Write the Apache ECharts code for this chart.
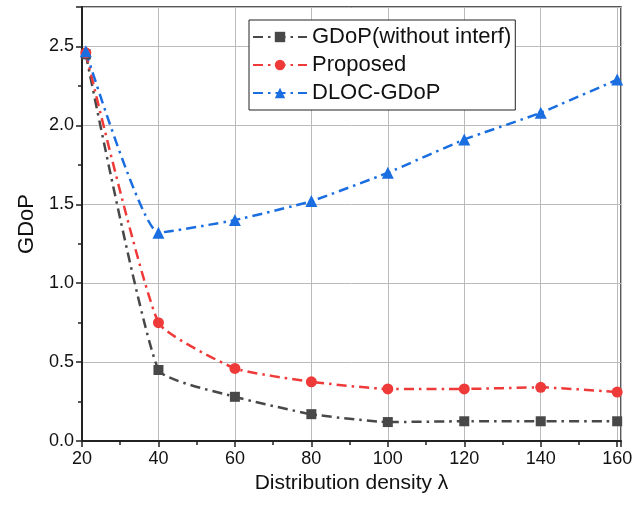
<!DOCTYPE html>
<html>
<head>
	<meta charset="utf-8">
	<title>GDoP</title>
</head>
<body style="margin:0;background:#fff;">
	<div style="width:644px;height:510px;" id="chart1"></div>

	<script src="https://cdn.jsdelivr.net/npm/echarts@6/dist/echarts.min.js"></script>
	<script>
	// 横轴: 分布密度
	var density = [21, 40, 60, 80, 100, 120, 140, 160];
	var gdopNoInterf = [2.45, 0.45, 0.28, 0.17, 0.12, 0.125, 0.125, 0.125];
	var proposed = [2.46, 0.75, 0.46, 0.375, 0.33, 0.33, 0.34, 0.31];
	var dlocGdop = [2.47, 1.32, 1.40, 1.52, 1.70, 1.91, 2.08, 2.29];
	var seriesNames = ['GDoP(without interf)', 'Proposed', 'DLOC-GDoP'];

	function pairs(ys) {
		var out = [];
		for (var i = 0; i < density.length; i++) out.push([density[i], ys[i]]);
		return out;
	}

	var font = 'Liberation Sans, Arial, sans-serif';
	var dashDot = [10, 5, 2.5, 5];

	function line(name, ys, color, symbol, size) {
		return {
			name: name,
			type: 'line',
			data: pairs(ys),
			symbol: symbol,
			symbolSize: size,
			smooth: 0.15,
			itemStyle: { color: color },
			lineStyle: { color: color, width: 2.5, type: dashDot }
		};
	}

	var myChart = echarts.init(document.getElementById('chart1'));
	var option = {
		animation: false,
		grid: {
			left: 82, right: 23, top: 7, bottom: 69,
			show: true, borderColor: '#222', borderWidth: 1.5
		},
		legend: {
			orient: 'vertical',
			left: 249, top: 20,
			data: seriesNames,
			borderColor: '#222', borderWidth: 1,
			padding: [6, 4, 6, 3],
			itemGap: 6,
			itemWidth: 54, itemHeight: 13,
			backgroundColor: '#fff',
			textStyle: { fontFamily: font, fontSize: 22, color: '#111' }
		},
		xAxis: {
			type: 'value',
			min: 20, max: 161, interval: 20,
			name: 'Distribution density λ',
			nameLocation: 'middle', nameGap: 30,
			nameTextStyle: { fontFamily: font, fontSize: 21, color: '#111', verticalAlign: 'top' },
			axisLine: { lineStyle: { color: '#222', width: 2 } },
			axisTick: { show: true, length: 6, lineStyle: { color: '#222', width: 1.5 } },
			minorTick: { show: true, splitNumber: 2, length: 4, lineStyle: { color: '#222', width: 1.5 } },
			axisLabel: { fontFamily: font, fontSize: 18, color: '#111', margin: 9, showMaxLabel: false },
			splitLine: { show: true, lineStyle: { color: '#bbb', width: 1 } }
		},
		yAxis: {
			type: 'value',
			min: 0, max: 2.75, interval: 0.5,
			name: 'GDoP',
			nameLocation: 'middle', nameGap: 42,
			nameTextStyle: { fontFamily: font, fontSize: 22, color: '#111' },
			axisLine: { show: true, lineStyle: { color: '#222', width: 2 } },
			axisTick: { show: true, length: 6, lineStyle: { color: '#222', width: 1.5 } },
			minorTick: { show: true, splitNumber: 2, length: 4, lineStyle: { color: '#222', width: 1.5 } },
			axisLabel: {
				fontFamily: font, fontSize: 18, color: '#111', margin: 8, showMaxLabel: false,
				formatter: function (v) { return v.toFixed(1); }
			},
			splitLine: { show: true, lineStyle: { color: '#bbb', width: 1 } }
		},
		series: [
			line(seriesNames[0], gdopNoInterf, '#484848', 'rect', 10),
			line(seriesNames[1], proposed, '#ef3a3a', 'circle', 11),
			line(seriesNames[2], dlocGdop, '#1a6ee0', 'triangle', 12)
		]
	};
	myChart.setOption(option);
	</script>
</body>
</html>
